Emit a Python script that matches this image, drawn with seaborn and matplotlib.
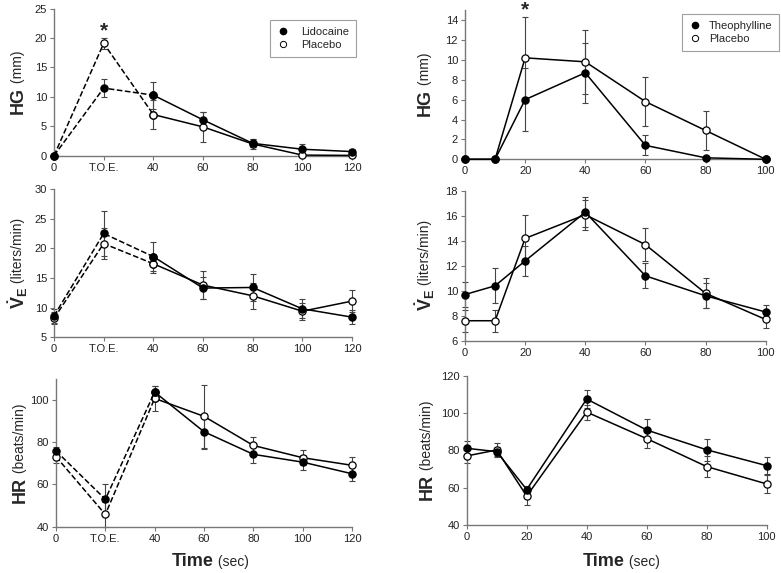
import matplotlib
matplotlib.use("Agg")
import matplotlib.pyplot as plt
import seaborn as sns
from matplotlib.lines import Line2D

# time points
x_left = [0, 20, 40, 60, 80, 100, 120]
x_left_labels = ["0", "T.O.E.", "40", "60", "80", "100", "120"]
x_right = [0, 10, 20, 40, 60, 80, 100]
x_right_ticks = [0, 20, 40, 60, 80, 100]

# left column: lidocaine vs placebo
hg_lido = [0, 11.5, 10.3, 6.1, 2.1, 1.1, 0.7]
hg_lido_err = [0, 1.5, 2.3, 1.3, 0.7, 0.9, 0.5]
hg_plac_l = [0, 19.1, 7.0, 4.9, 2.0, 0.1, 0.05]
hg_plac_l_err = [0, 0.9, 2.5, 2.5, 0.9, 0.1, 0.1]

ve_lido = [8.6, 22.5, 18.6, 13.3, 13.4, 9.8, 8.4]
ve_lido_err = [1.2, 3.8, 2.4, 1.9, 2.2, 1.6, 1.2]
ve_plac_l = [8.2, 20.8, 17.4, 13.8, 12.0, 9.4, 11.1]
ve_plac_l_err = [1.0, 2.6, 1.6, 2.3, 2.2, 1.4, 1.8]

hr_lido = [75.9, 53.0, 103.8, 85.0, 74.3, 70.6, 65.1]
hr_lido_err = [2.0, 7.0, 3.0, 8.3, 4.0, 3.5, 3.3]
hr_plac_l = [73.2, 45.8, 100.8, 92.3, 78.5, 72.7, 69.1]
hr_plac_l_err = [3.0, 5.8, 6.0, 15.0, 4.0, 3.5, 4.0]

# right column: theophylline vs placebo
hg_theo = [0, 0, 6.0, 8.7, 1.4, 0.15, 0]
hg_theo_err = [0, 0, 3.2, 3.0, 1.0, 0.1, 0]
hg_plac_r = [0, 0, 10.2, 9.8, 5.8, 2.9, 0]
hg_plac_r_err = [0, 0, 4.1, 3.2, 2.5, 2.0, 0]

ve_theo = [9.7, 10.4, 12.4, 16.3, 11.2, 9.6, 8.3]
ve_theo_err = [1.0, 1.4, 1.2, 1.2, 1.0, 1.0, 0.6]
ve_plac_r = [7.6, 7.6, 14.2, 16.1, 13.7, 9.8, 7.7]
ve_plac_r_err = [0.9, 0.9, 1.9, 1.2, 1.3, 1.2, 0.7]

hr_theo = [81.1, 79.3, 59.0, 107.5, 90.9, 80.3, 71.8]
hr_theo_err = [4.0, 2.5, 2.0, 5.0, 6.0, 6.0, 4.5]
hr_plac_r = [77.0, 80.2, 55.5, 100.5, 86.3, 71.3, 62.0]
hr_plac_r_err = [4.0, 3.5, 4.6, 4.0, 5.0, 5.5, 4.8]

sns.set_theme(style="white")
plt.rcParams["font.family"] = ["Liberation Sans", "DejaVu Sans"]
plt.rcParams["mathtext.fontset"] = "custom"
plt.rcParams["mathtext.bf"] = "Liberation Sans:bold"
plt.rcParams["mathtext.rm"] = "Liberation Sans"

W, H = 781, 573
fig = plt.figure(figsize=(W / 100, H / 100), dpi=100)
ylabels = []


def make_axes(x0, x1, y_bottom, y_top):
    return fig.add_axes([x0 / W, 1 - y_bottom / H, (x1 - x0) / W, (y_bottom - y_top) / H])


def draw_series(ax, x, y, err, filled, dashed_until=None):
    ax.errorbar(x, y, yerr=err, fmt="none", ecolor="#444444", elinewidth=0.8,
                capsize=2.5, capthick=0.8, zorder=2, clip_on=False)
    face = "black" if filled else "white"
    if dashed_until is None:
        parts = [(0, len(x), "-")]
    else:
        parts = [(0, dashed_until + 1, "--"), (dashed_until, len(x), "-")]
    for start, stop, ls in parts:
        sns.lineplot(x=x[start:stop], y=y[start:stop], ax=ax, color="black", linestyle=ls,
                     linewidth=1.1, marker="o", markersize=5.2, markerfacecolor=face,
                     markeredgecolor="black", markeredgewidth=0.9, sort=False,
                     clip_on=False, zorder=3)


def style_axes(ax, ylim, yticks, xticks, xlim, xlabels=None):
    ax.set_xlim(*xlim)
    ax.set_ylim(*ylim)
    ax.set_yticks(yticks)
    ax.set_xticks(xticks)
    if xlabels is not None:
        ax.set_xticklabels(xlabels)
    sns.despine(ax=ax)
    for side in ["left", "bottom"]:
        ax.spines[side].set_color("#777777")
        ax.spines[side].set_linewidth(1.0)
    ax.tick_params(axis="both", labelsize=8, colors="#222222", length=3, width=0.8,
                   direction="out", left=True, bottom=True, pad=2)
    ax.tick_params(axis="both", color="#777777")
    ax.set_ylabel("")
    ax.set_xlabel("")


def ylabel(ax, xpos, bold, rest):
    t = ax.text(xpos, 0.5, bold, rotation=90, fontsize=13, fontweight="bold",
                transform=ax.transAxes, ha="center", va="bottom")
    t2 = ax.annotate(rest, xy=(0.5, 1.0), xycoords=t, rotation=90, fontsize=10,
                     ha="center", va="bottom")
    ylabels.append((ax, t, t2, xpos))


def legend(ax, names, loc_box, textpad):
    handles = [
        Line2D([], [], linestyle="none", marker="o", markersize=4.5, markerfacecolor="black",
               markeredgecolor="black"),
        Line2D([], [], linestyle="none", marker="o", markersize=4.5, markerfacecolor="white",
               markeredgecolor="black", markeredgewidth=0.7),
    ]
    leg = ax.legend(handles, names, loc="upper left", bbox_to_anchor=loc_box,
                    bbox_transform=fig.transFigure, frameon=True, fancybox=False,
                    fontsize=8, handlelength=1.2, handletextpad=textpad, borderpad=0.6,
                    labelspacing=0.3, borderaxespad=0)
    leg.get_frame().set_edgecolor("#888888")
    leg.get_frame().set_linewidth(0.8)


# ---- left column ----
ax1 = make_axes(54, 352, 155.7, 8.7)
draw_series(ax1, x_left, hg_plac_l, hg_plac_l_err, False, dashed_until=2)
draw_series(ax1, x_left, hg_lido, hg_lido_err, True, dashed_until=2)
style_axes(ax1, (0, 25), range(0, 26, 5), x_left, (0, 120), x_left_labels)
ylabel(ax1, -0.12, "HG", " (mm)")
ax1.text(20, 21.2, "*", ha="center", va="center", fontsize=15, fontweight="bold")
legend(ax1, ["Lidocaine", "Placebo"], (270 / W, 1 - 20 / H), 1.0)

ax2 = make_axes(54, 352, 337.3, 189)
draw_series(ax2, x_left, ve_plac_l, ve_plac_l_err, False, dashed_until=2)
draw_series(ax2, x_left, ve_lido, ve_lido_err, True, dashed_until=2)
style_axes(ax2, (5, 30), range(5, 31, 5), x_left, (0, 120), x_left_labels)
ylabel(ax2, -0.12, r"$\mathbf{\dot{V}_E}$", " (liters/min)")

ax3 = make_axes(56, 352, 526.7, 379)
draw_series(ax3, x_left, hr_plac_l, hr_plac_l_err, False, dashed_until=2)
draw_series(ax3, x_left, hr_lido, hr_lido_err, True, dashed_until=2)
style_axes(ax3, (40, 110), range(40, 101, 20), x_left, (0, 120), x_left_labels)
ylabel(ax3, -0.12, "HR", " (beats/min)")

# ---- right column ----
ax4 = make_axes(465, 765.7, 159.3, 10.1)
draw_series(ax4, x_right, hg_plac_r, hg_plac_r_err, False)
draw_series(ax4, x_right, hg_theo, hg_theo_err, True)
style_axes(ax4, (0, 15), range(0, 15, 2), x_right_ticks, (0, 100))
ylabel(ax4, -0.133, "HG", " (mm)")
ax4.text(20, 15.0, "*", ha="center", va="center", fontsize=15, fontweight="bold")
legend(ax4, ["Theophylline", "Placebo"], (682 / W, 1 - 14 / H), 0.6)

ax5 = make_axes(465, 765.7, 340.7, 191)
draw_series(ax5, x_right, ve_plac_r, ve_plac_r_err, False)
draw_series(ax5, x_right, ve_theo, ve_theo_err, True)
style_axes(ax5, (6, 18), range(6, 19, 2), x_right_ticks, (0, 100))
ylabel(ax5, -0.133, r"$\mathbf{\dot{V}_E}$", " (liters/min)")

ax6 = make_axes(466.7, 766.7, 525, 375.7)
draw_series(ax6, x_right, hr_plac_r, hr_plac_r_err, False)
draw_series(ax6, x_right, hr_theo, hr_theo_err, True)
style_axes(ax6, (40, 120), range(40, 121, 20), x_right_ticks, (0, 100))
ylabel(ax6, -0.133, "HR", " (beats/min)")

# shared x labels
for left_px in [172, 583]:
    t = fig.text(left_px / W, 1 - 562 / H, "Time", fontsize=13, fontweight="bold",
                 ha="left", va="center")
    fig.add_artist(plt.Annotation(" (sec)", xy=(1.0, 0.5), xycoords=t, fontsize=10,
                                  ha="left", va="center", annotation_clip=False))

# centre each two-part y label on its axes
fig.canvas.draw()
renderer = fig.canvas.get_renderer()
for ax, t, t2, xpos in ylabels:
    b1 = t.get_window_extent(renderer)
    b2 = t2.get_window_extent(renderer)
    total = b2.y1 - b1.y0
    ax_box = ax.get_window_extent(renderer)
    start = ax_box.y0 + ax_box.height / 2 - total / 2
    t.set_position((xpos, (start - ax_box.y0) / ax_box.height))

fig.savefig("out.png", dpi=100)
